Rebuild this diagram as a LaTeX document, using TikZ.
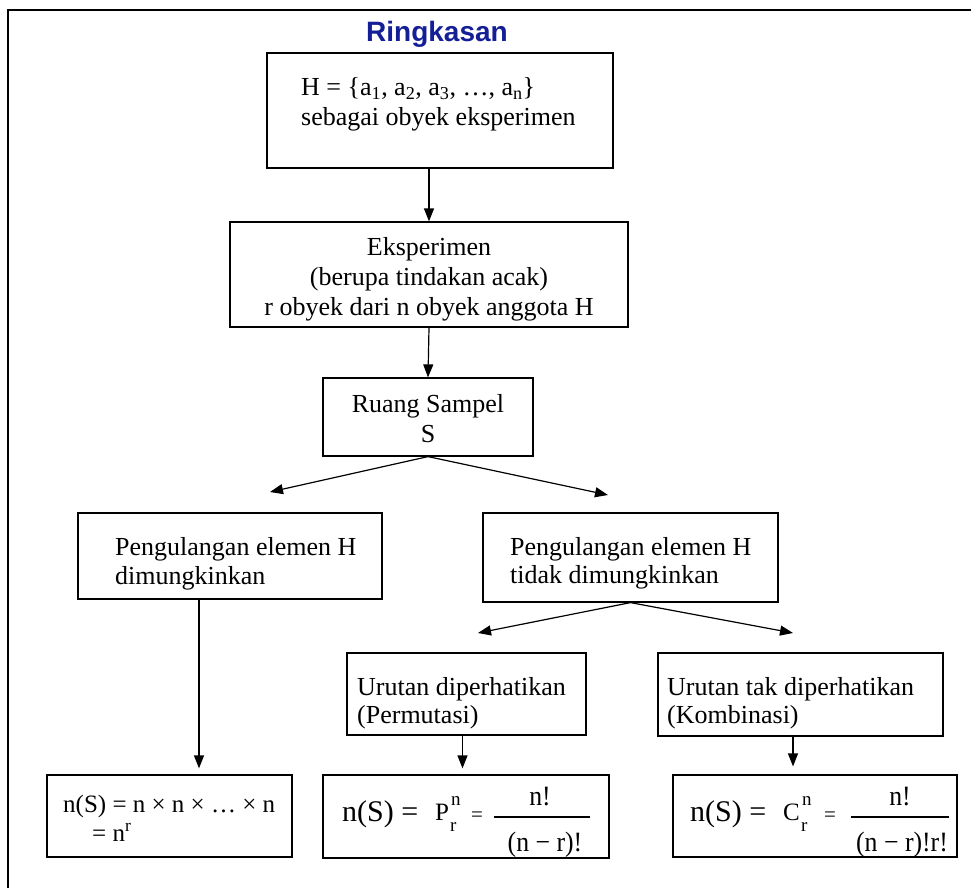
\documentclass[tikz,border=0pt]{standalone}
\usepackage{fontspec}
\setmainfont{Liberation Serif}
\newfontfamily\titlefont{Liberation Sans}
\newfontfamily\fracfont[FakeStretch=0.92]{Liberation Serif}
\usetikzlibrary{arrows.meta}
\definecolor{titleblue}{RGB}{20,30,150}
\begin{document}
\begin{tikzpicture}[x=1pt,y=-1pt,
  box/.style={draw, line width=1.2pt, inner sep=0pt},
  txt/.style={inner sep=0pt, anchor=base west, font=\fontsize{26}{30}\selectfont},
  ctxt/.style={inner sep=0pt, anchor=base, font=\fontsize{26}{30}\selectfont},
  big/.style={inner sep=0pt, anchor=base west, font=\fontsize{30}{32}\selectfont},
  mid/.style={inner sep=0pt, anchor=base west, font=\fontsize{25}{27}\selectfont},
  cfrac/.style={inner sep=0pt, anchor=base, font=\fracfont\fontsize{28}{30}\selectfont},
  scr/.style={inner sep=0pt, anchor=base west, font=\fontsize{19}{21}\selectfont},
  eqs/.style={inner sep=0pt, anchor=base west, font=\fontsize{21}{23}\selectfont},
  small/.style={inner sep=0pt, anchor=base west, font=\fontsize{25}{27}\selectfont},
  arr/.style={line width=1.2pt, -{Triangle[length=13pt,width=10pt]}},
  fracbar/.style={line width=1.1pt},
]
\useasboundingbox (0,0) rectangle (971,888);
% outer frame (cropped on the right and bottom)
\draw[line width=1.8pt] (8,900) -- (8,10) -- (980,10);

% title
\node[anchor=base, inner sep=0pt, font=\titlefont\bfseries\fontsize{28}{30}\selectfont, text=titleblue] (title) at (437,42) {Ringkasan};

% boxes
\node[box, minimum width=346pt, minimum height=115pt] (b1) at (440,110.5) {};
\node[box, minimum width=398pt, minimum height=105pt] (b2) at (429,274.5) {};
\node[box, minimum width=210pt, minimum height=78pt] (b3) at (428,417) {};
\node[box, minimum width=304pt, minimum height=86pt] (bL) at (230,556) {};
\node[box, minimum width=295pt, minimum height=89pt] (bR) at (630.5,557.5) {};
\node[box, minimum width=239pt, minimum height=82pt] (bP) at (466.5,694) {};
\node[box, minimum width=285pt, minimum height=83pt] (bK) at (800.5,694.5) {};
\node[box, minimum width=245pt, minimum height=82pt] (fA) at (169.5,816) {};
\node[box, minimum width=286pt, minimum height=83pt] (fB) at (466,816.5) {};
\node[box, minimum width=284pt, minimum height=82pt] (fC) at (815,816) {};

% box texts
\node[txt] (t1a) at (301,96) {H = \{a\textsubscript{1}, a\textsubscript{2}, a\textsubscript{3}, …, a\textsubscript{n}\}};
\node[txt] (t1b) at (301,125) {sebagai obyek eksperimen};

\node[ctxt] (t2a) at (429,255) {Eksperimen};
\node[ctxt] (t2b) at (429,285) {(berupa tindakan acak)};
\node[ctxt] (t2c) at (429,315) {r obyek dari n obyek anggota H};

\node[ctxt] (t3a) at (428,412) {Ruang Sampel};
\node[ctxt] (t3b) at (428,442) {S};

\node[txt] (tLa) at (115,555) {Pengulangan elemen H};
\node[txt] (tLb) at (115,584) {dimungkinkan};

\node[txt] (tRa) at (510,555) {Pengulangan elemen H};
\node[txt] (tRb) at (510,583) {tidak dimungkinkan};

\node[txt] (tPa) at (357,695) {Urutan diperhatikan};
\node[txt] (tPb) at (357,723) {(Permutasi)};

\node[txt] (tKa) at (667,695) {Urutan tak diperhatikan};
\node[txt] (tKb) at (667,723) {(Kombinasi)};

% formula A
\node[small] (fAa) at (63,812) {n(S) = n × n × … × n};
\node[small] (fAb) at (92,841) {= n\textsuperscript{r}};

% formula B
\node[big] (fBa) at (342,821) {n(S) =};
\node[mid] (fBP) at (435,820) {P};
\node[scr] (fBn) at (451,805) {n};
\node[scr] (fBr) at (450,831) {r};
\node[eqs] (fBeq) at (471,821) {=};
\node[cfrac] (fBnum) at (540,805) {n!};
\node[cfrac] (fBden) at (545,851) {(n − r)!};
\draw[fracbar] (494,817) -- (590,817);

% formula C
\node[big] (fCa) at (690,821) {n(S) =};
\node[mid] (fCC) at (783,820) {C};
\node[scr] (fCn) at (802,805) {n};
\node[scr] (fCr) at (801,831) {r};
\node[eqs] (fCeq) at (824,821) {=};
\node[cfrac] (fCnum) at (900,805) {n!};
\node[cfrac] (fCden) at (902,851) {(n − r)!r!};
\draw[fracbar] (851,817) -- (949,817);

% free arrow ends
\coordinate (tipL) at (270,492);
\coordinate (tipR) at (608,495);
\coordinate (tipL2) at (478,633);
\coordinate (tipR2) at (793,633);

% connectors
\draw[arr] (b1.south -| b2.north) -- (b2.north);
\draw[arr] (b2.south) -- (b3.north);
\draw[arr] (b3.south) -- (tipL);
\draw[arr] (b3.south) -- (tipR);
\draw[arr, shorten >=6pt] ([xshift=-31pt]bL.south) -- ([xshift=-31pt]bL.south |- fA.north);
\draw[arr] (bR.south) -- (tipL2);
\draw[arr] (bR.south) -- (tipR2);
\draw[arr, shorten >=6pt] ([xshift=-4pt]bP.south) -- ([xshift=-4pt]bP.south |- fB.north);
\draw[arr, shorten >=8pt] ([xshift=-7.5pt]bK.south) -- ([xshift=-7.5pt]bK.south |- fC.north);
\end{tikzpicture}
\end{document}
